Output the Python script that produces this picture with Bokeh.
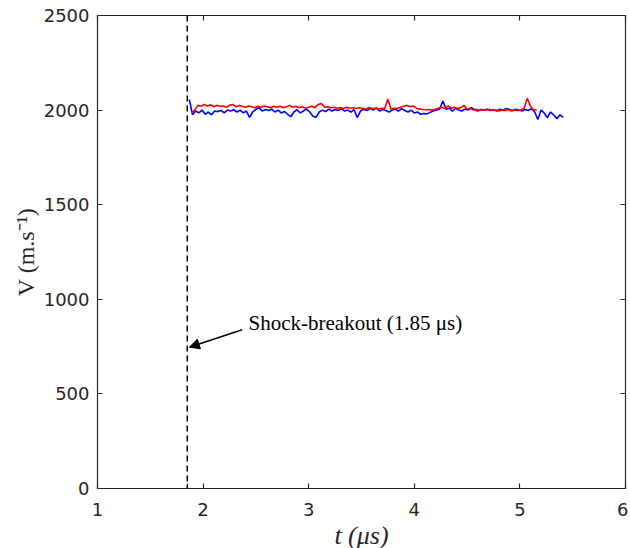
import numpy as np
from bokeh.plotting import figure
from bokeh.models import (Span, Arrow, NormalHead, Label, LinearAxis, FixedTicker,
                          CustomJSTickFormatter)
from bokeh.embed import file_html
from bokeh.resources import INLINE

# ---- data ----
blue_t0, blue_dt = 1.87, 0.03
blue_v = [2055, 1975, 1995, 1985, 2000, 1978, 1990, 1975, 1995, 1992,
          1998, 1985, 2000, 1995, 2002, 1990, 2000, 1985, 1995, 1962,
          1990, 2005, 2012, 1995, 2003, 1998, 2005, 1990, 2000, 1985,
          1993, 1978, 1965, 1990, 2002, 1985, 1995, 2005, 1990, 1968,
          1962, 1990, 2000, 1992, 2005, 1995, 2003, 1998, 2008, 1995,
          2000, 1990, 2002, 1960, 1995, 2005, 1998, 2008, 2000, 2012,
          1995, 2003, 1998, 1990, 2000, 2005, 1995, 2008, 1998, 1990,
          2000, 1985, 1990, 1978, 1982, 1980, 1988, 1995, 2000, 2005,
          2048, 2005, 2010, 1995, 2008, 2000, 1995, 2005, 2000, 2012,
          2003, 1995, 2003, 2000, 2005, 1998, 2002, 1995, 2005, 2000,
          2008, 2003, 1998, 2005, 2000, 1995, 2003, 1998, 2008, 1990,
          1950, 2000, 1985, 1960, 1990, 1975, 1955, 1975, 1962]

red_t0, red_dt = 1.89, 0.03
red_v = [1985, 2000, 2025, 2020, 2030, 2022, 2028, 2018, 2025, 2020,
         2022, 2015, 2025, 2030, 2018, 2025, 2020, 2015, 2022, 2018,
         2012, 2020, 2015, 2022, 2018, 2013, 2020, 2015, 2020, 2012,
         2018, 2025, 2015, 2020, 2012, 2018, 2010, 2015, 2020, 2013,
         2030, 2035, 2015, 2018, 2012, 2015, 2010, 2013, 2008, 2015,
         2010, 2012, 2008, 2012, 2010, 2005, 2013, 2008, 2010, 2005,
         2010, 2008, 2058, 2005, 2010, 2008, 2015, 2020, 2025, 2018,
         2022, 2010, 2005, 2003, 2002, 2003, 2000, 2005, 2010, 2015,
         2008, 2022, 2010, 2015, 2008, 2012, 2025, 2005, 2010, 2000,
         2005, 1998, 2003, 2000, 2005, 1998, 2000, 1995, 2000, 1998,
         2003, 1995, 2000, 1998, 2000, 2010, 2062, 2020, 2000, 2002]

x_ticks = [1, 1.85, 2, 3, 4, 5, 6]
y_ticks = [0, 500, 1000, 1500, 2000, 2500]
breakout_t = 1.85
note_text = "Shock-breakout (1.85 \u03bcs)"
note_pos = (2.43, 877)
arrow_tail = (2.37, 839)
arrow_head = (1.87, 747)

blue_t = blue_t0 + blue_dt * np.arange(len(blue_v))
red_t = red_t0 + red_dt * np.arange(len(red_v))

axis_col = "#262626"

p = figure(frame_width=528, frame_height=473, x_range=(1, 6), y_range=(0, 2500),
           output_backend="svg", toolbar_location=None,
           min_border_left=97, min_border_top=15, min_border_right=3, min_border_bottom=10)
p.width = 628
p.height = 546
p.xgrid.visible = False
p.ygrid.visible = False
p.outline_line_color = None
p.background_fill_color = "white"

def style(ax, ticks, show_labels):
    ax.ticker = FixedTicker(ticks=ticks)
    ax.major_tick_in = 5
    ax.major_tick_out = 0
    ax.minor_tick_line_color = None
    ax.axis_line_color = axis_col
    ax.major_tick_line_color = axis_col
    ax.axis_line_width = 1.2
    ax.major_tick_line_width = 1.2
    if show_labels:
        ax.major_label_text_font = "DejaVu Sans"
        ax.major_label_text_font_size = "18px"
        ax.major_label_text_color = axis_col
        ax.major_label_standoff = 8
    else:
        ax.formatter = CustomJSTickFormatter(code="return ''")
        ax.major_label_standoff = 0

style(p.xaxis[0], x_ticks, True)
style(p.yaxis[0], y_ticks, True)
p.xaxis[0].major_label_standoff = 14
p.xaxis[0].major_label_overrides = {1.85: ""}
p.xaxis[0].axis_label = "t (\u03bcs)"
p.xaxis[0].axis_label_text_font = "Liberation Serif"
p.xaxis[0].axis_label_text_font_style = "italic"
p.xaxis[0].axis_label_text_font_size = "26px"
p.xaxis[0].axis_label_text_color = axis_col
p.xaxis[0].axis_label_standoff = 2
p.yaxis[0].axis_label = "V (m.s\u207b\u00b9)"
p.yaxis[0].axis_label_text_font = "Liberation Serif"
p.yaxis[0].axis_label_text_font_style = "normal"
p.yaxis[0].axis_label_text_font_size = "24px"
p.yaxis[0].axis_label_text_color = axis_col
p.yaxis[0].axis_label_standoff = 2

top = LinearAxis()
style(top, x_ticks, False)
p.add_layout(top, "above")
right = LinearAxis()
style(right, y_ticks, False)
p.add_layout(right, "right")

p.line(blue_t, blue_v, line_color="#0000ff", line_width=1.6)
p.line(red_t, red_v, line_color="#ff0000", line_width=1.6)

p.add_layout(Span(location=breakout_t, dimension="height", line_color="black",
                  line_width=1.5, line_dash="6 4"))
p.add_layout(Arrow(end=NormalHead(size=10, fill_color="black", line_color="black"),
                   x_start=arrow_tail[0], y_start=arrow_tail[1],
                   x_end=arrow_head[0], y_end=arrow_head[1],
                   line_color="black", line_width=1.5))
p.add_layout(Label(x=note_pos[0], y=note_pos[1], text=note_text,
                   text_font="Liberation Serif", text_font_size="21px",
                   text_color="black", text_baseline="middle", text_align="left"))

open("out.html", "w").write(file_html(p, INLINE))
